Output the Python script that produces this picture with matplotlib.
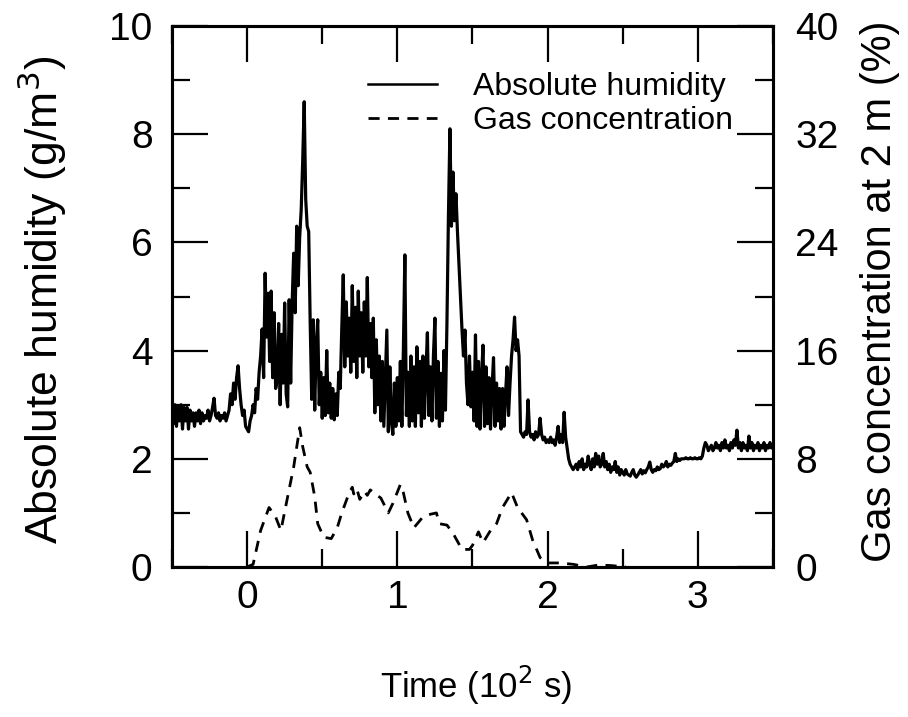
import numpy as np
import matplotlib
matplotlib.use("Agg")
from matplotlib import pyplot as plt
from matplotlib.lines import Line2D
from matplotlib.ticker import MultipleLocator

# DATA
# absolute humidity (g/m3), sampled every 0.01 (10^2 s) from -0.5 to 3.5
hum_time = np.linspace(-0.5, 3.5, 401)
hum_vals = [
    2.95, 2.65, 3.0, 2.6, 2.95, 2.7, 3.0, 2.55, 2.95, 2.7,      # -0.5
    2.95, 2.55, 2.9, 2.7, 2.85, 2.6, 2.85, 2.7, 2.9, 2.65,      # -0.4
    2.85, 2.7, 2.8, 2.75, 2.9, 2.7, 2.8, 2.95, 3.12, 2.8,       # -0.3
    2.75, 2.85, 2.7, 2.8, 2.75, 2.85, 2.7, 2.8, 2.9, 3.2,       # -0.2
    3.0, 3.4, 3.1, 3.5, 3.72, 3.3, 3.0, 2.8, 2.9, 2.6,          # -0.1
    2.55, 2.5, 2.7, 2.8, 3.0, 2.85, 3.3, 3.1, 3.6, 3.9,         # 0.0
    4.4, 3.5, 5.43, 4.25, 5.06, 3.8, 5.1, 3.5, 4.7, 3.3,        # 0.1
    3.46, 4.5, 3.0, 4.3, 3.4, 4.88, 3.2, 2.96, 4.94, 3.4,       # 0.2
    4.9, 5.8, 4.7, 6.3, 5.2, 6.1, 6.6, 7.5, 8.6, 6.8,           # 0.3
    6.3, 6.2, 4.5, 3.1, 4.57, 2.9, 4.1, 4.57, 3.0, 3.6,         # 0.4
    2.75, 3.5, 2.8, 4.0, 2.85, 3.4, 2.75, 3.3, 2.72, 3.2,       # 0.5
    2.8, 3.6, 3.3, 4.4, 5.4, 3.7, 4.9, 3.9, 4.6, 3.6,           # 0.6
    5.2, 3.8, 4.8, 3.5, 5.1, 3.9, 4.7, 3.6, 4.9, 3.9,           # 0.7
    5.35, 3.7, 4.5, 3.5, 4.6, 2.85, 4.2, 3.0, 3.9, 2.7,         # 0.8
    3.8, 2.6, 3.5, 4.38, 2.5, 3.7, 2.7, 2.45, 3.4, 2.6,         # 0.9
    3.5, 2.7, 3.8, 2.6, 4.0, 5.77, 2.8, 3.6, 2.6, 3.9,          # 1.0
    2.7, 3.7, 2.6, 4.07, 2.85, 3.8, 2.6, 3.9, 2.75, 3.6,        # 1.1
    4.33, 2.8, 3.7, 2.7, 3.9, 4.6, 2.75, 3.8, 2.6, 3.58,        # 1.2
    2.7, 4.0, 2.9, 4.5, 6.5, 8.1, 6.3, 7.3, 6.4, 6.9,           # 1.3
    6.2, 5.6, 5.0, 4.4, 3.9, 4.38, 3.4, 3.0, 3.9, 2.96,         # 1.4
    3.6, 2.7, 4.29, 2.6, 3.8, 2.55, 3.5, 4.1, 2.6, 3.7,         # 1.5
    2.65, 3.5, 2.55, 3.3, 3.87, 2.6, 3.4, 2.7, 3.3, 2.55,       # 1.6
    3.3, 2.6, 3.2, 3.7, 2.8, 3.4, 3.9, 4.2, 4.62, 4.0,          # 1.7
    4.2, 3.9, 2.5, 2.45, 2.4, 2.5, 2.45, 3.09, 2.5, 2.4,        # 1.8
    2.45, 2.35, 2.5, 2.4, 2.45, 2.75, 2.45, 2.35, 2.4, 2.3,     # 1.9
    2.35, 2.3, 2.4, 2.3, 2.35, 2.25, 2.4, 2.6, 2.3, 2.45,       # 2.0
    2.3, 2.86, 2.4, 2.2, 2.0, 1.9, 1.85, 1.8, 1.85, 1.9,        # 2.1
    1.8, 1.95, 1.85, 2.0, 1.8, 1.9, 1.85, 2.05, 1.9, 1.8,       # 2.2
    2.0, 1.85, 2.1, 1.9, 2.05, 1.85, 1.9, 2.1, 1.85, 1.95,      # 2.3
    1.8, 1.9, 1.75, 1.85, 1.8, 1.95, 1.75, 1.85, 1.7, 1.8,      # 2.4
    1.75, 1.7, 1.8, 1.72, 1.7, 1.68, 1.75, 1.8, 1.7, 1.66,      # 2.5
    1.7, 1.75, 1.8, 1.72, 1.78, 1.74, 1.8, 1.85, 1.94, 1.8,     # 2.6
    1.75, 1.8, 1.78, 1.85, 1.8, 1.82, 1.9, 1.85, 1.88, 1.95,    # 2.7
    1.85, 1.9, 1.88, 1.92, 1.95, 2.1, 1.95, 2.0, 1.97, 2.0,     # 2.8
    2.0, 2.0, 2.02, 2.0, 2.0, 2.02, 2.0, 2.0, 2.02, 2.0,        # 2.9
    2.0, 2.02, 2.0, 2.05, 2.2, 2.3, 2.25, 2.15, 2.2, 2.25,      # 3.0
    2.15, 2.2, 2.3, 2.2, 2.25, 2.15, 2.3, 2.2, 2.35, 2.2,       # 3.1
    2.25, 2.15, 2.3, 2.2, 2.35, 2.25, 2.53, 2.2, 2.3, 2.15,     # 3.2
    2.3, 2.2, 2.25, 2.15, 2.42, 2.2, 2.3, 2.15, 2.25, 2.2,      # 3.3
    2.3, 2.15, 2.25, 2.2, 2.3, 2.15, 2.25, 2.2, 2.3, 2.2, 2.25, # 3.4
]

# gas concentration at 2 m (%)
gas_time = [0.0, 0.04, 0.09, 0.146, 0.19, 0.225, 0.27, 0.31, 0.35, 0.37,
            0.40, 0.42, 0.45, 0.47, 0.51, 0.56, 0.60, 0.63, 0.68, 0.70,
            0.71, 0.73, 0.75, 0.78, 0.80, 0.82, 0.84, 0.89, 0.94, 0.97,
            1.02, 1.04, 1.07, 1.11, 1.14, 1.17, 1.22, 1.26, 1.28, 1.33,
            1.37, 1.43, 1.48, 1.50, 1.54, 1.57, 1.62, 1.66, 1.70, 1.76,
            1.80, 1.86, 1.90, 1.95, 1.99, 2.08, 2.17, 2.26, 2.34, 2.43, 2.52]
gas_vals = [0.0, 0.2, 2.7, 4.4, 3.7, 2.7, 5.2, 7.4, 10.3, 8.9,
            7.4, 7.0, 5.2, 3.2, 2.2, 2.1, 2.9, 4.0, 5.5, 5.9,
            5.4, 5.8, 5.0, 5.6, 5.3, 5.7, 5.5, 5.1, 4.0, 4.7,
            6.1, 5.5, 4.0, 2.9, 3.3, 3.7, 3.9, 4.0, 3.2, 3.1,
            2.5, 1.3, 1.3, 1.6, 2.6, 1.8, 2.7, 3.2, 4.4, 5.5,
            4.4, 3.5, 2.0, 0.7, 0.3, 0.3, 0.2, 0.0, 0.15, 0.1, 0.0]

x_ticks = [0, 1, 2, 3]
hum_ticks = [0, 2, 4, 6, 8, 10]
gas_ticks = [0, 8, 16, 24, 32, 40]

plt.rcParams['font.family'] = ['Liberation Sans', 'DejaVu Sans']

fig = plt.figure(figsize=(9.08, 7.17), dpi=100)
ax = fig.add_axes([0.1894, 0.2092, 0.6619, 0.7545])
ax2 = ax.twinx()

ax.plot(hum_time, hum_vals, color='black', lw=2.3)
ax2.plot(gas_time, gas_vals, color='black', lw=2.0, linestyle=(0, (4, 3)))

ax.set_xlim(-0.5, 3.5)
ax.set_ylim(0, 10)
ax2.set_ylim(0, 40)

ax.set_xticks(x_ticks)
ax.xaxis.set_minor_locator(MultipleLocator(0.5))
ax.set_yticks(hum_ticks)
ax.yaxis.set_minor_locator(MultipleLocator(1))
ax2.set_yticks(gas_ticks)
ax2.yaxis.set_minor_locator(MultipleLocator(4))

for a in (ax, ax2):
    for s in a.spines.values():
        s.set_linewidth(2.2)

ax.tick_params(axis='both', which='both', direction='in', top=True, right=False, width=1.6, labelsize=28)
ax.tick_params(axis='both', which='major', length=26)
ax.tick_params(axis='both', which='minor', length=13)
ax.tick_params(axis='x', pad=9)
ax.tick_params(axis='y', pad=14)
ax2.tick_params(axis='y', which='both', direction='in', width=1.6, labelsize=28, pad=16)
ax2.tick_params(axis='y', which='major', length=26)
ax2.tick_params(axis='y', which='minor', length=13)

ax.set_xlabel('Time (10$^2$ s)', fontsize=25)
ax.set_ylabel('Absolute humidity (g/m$^3$)', fontsize=32)
ax2.set_ylabel('Gas concentration at 2 m (%)', fontsize=30)
for lab in (ax.xaxis.label, ax.yaxis.label, ax2.yaxis.label):
    lab.set_va('center')
ax.xaxis.set_label_coords(0.506, -0.218)
ax.yaxis.set_label_coords(-0.216, 0.494)
ax2.yaxis.set_label_coords(1.178, 0.51)

handles = [Line2D([], [], color='black', lw=1.8),
           Line2D([], [], color='black', lw=2.0, linestyle=(0, (4, 3)))]
ax.legend(handles, ['Absolute humidity', 'Gas concentration'], loc='upper left',
          bbox_to_anchor=(0.326, 0.915), frameon=False, fontsize=23,
          handlelength=2.16, handletextpad=1.13, labelspacing=0.13,
          borderpad=0, borderaxespad=0)

fig.savefig('out.png', dpi=100)
